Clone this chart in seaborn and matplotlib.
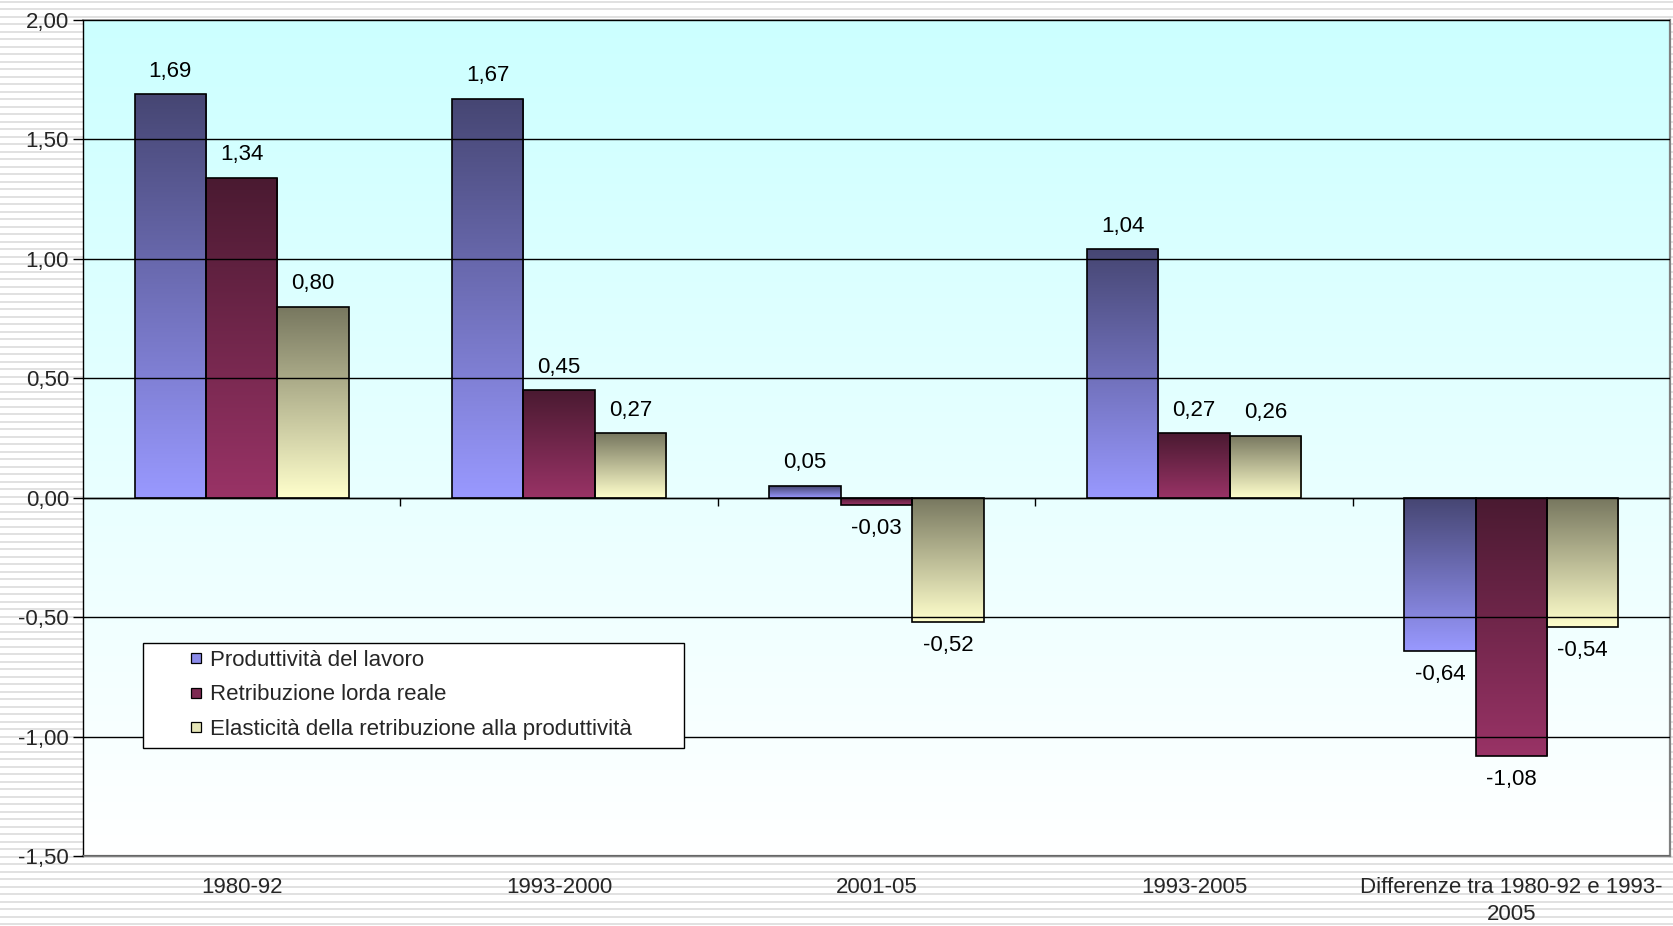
import numpy as np
import pandas as pd
import matplotlib
matplotlib.use("Agg")
import matplotlib.pyplot as plt
from matplotlib.colors import LinearSegmentedColormap, to_rgb
from matplotlib.lines import Line2D
from matplotlib.patches import Rectangle
from matplotlib.ticker import FuncFormatter, MultipleLocator
import seaborn as sns

# ---- data ----
categories = ["1980-92", "1993-2000", "2001-05", "1993-2005",
              "Differenze tra 1980-92 e 1993-\n2005"]
series_names = ["Produttività del lavoro",
                "Retribuzione lorda reale",
                "Elasticità della retribuzione alla produttività"]
produttivita = [1.69, 1.67, 0.05, 1.04, -0.64]
retribuzione = [1.34, 0.45, -0.03, 0.27, -1.08]
elasticita = [0.80, 0.27, -0.52, 0.26, -0.54]

# gradient end colours per series (top of bar -> bottom of bar)
grad_top = ["#464673", "#4a1a31", "#77775f"]
grad_bottom = ["#9999ff", "#993366", "#ffffcc"]
legend_swatch = ["#8b8bea", "#7d2a52", "#e6e6b8"]

df = pd.DataFrame({
    "categoria": np.repeat(categories, 3),
    "serie": series_names * len(categories),
    "valore": np.ravel(np.column_stack([produttivita, retribuzione, elasticita])),
})

sns.set_theme(style="white")
plt.rcParams["font.family"] = ["Liberation Sans", "DejaVu Sans"]
FS = 16

fig = plt.figure(figsize=(16.74, 9.26), dpi=100)
fig.patch.set_facecolor("white")

# striped slide background
bg = fig.add_axes([0, 0, 1, 1], zorder=-10)
bg.set_xlim(0, 1)
bg.set_ylim(0, 926)
for yy in np.arange(2.0, 926, 7.5):
    bg.axhline(yy, color="#e1e1e1", lw=1.4)
bg.axis("off")

ax = fig.add_axes([83 / 1674, 1 - 856 / 926, 1587 / 1674, 836 / 926])
ymin, ymax = -1.5, 2.0

sns.barplot(data=df, x="categoria", y="valore", hue="serie",
            order=categories, hue_order=series_names,
            width=0.675, ax=ax, legend=False, errorbar=None,
            edgecolor="black", linewidth=1.2, zorder=3)

ax.set_xlim(-0.5, len(categories) - 0.5)
ax.set_ylim(ymin, ymax)

# plot-area gradient: cyan at the top fading to white at the bottom
area_cmap = LinearSegmentedColormap.from_list("area", ["#ffffff", "#ccffff"])
ax.imshow(np.linspace(0, 1, 256).reshape(-1, 1), cmap=area_cmap, origin="lower",
          extent=(-0.5, len(categories) - 0.5, ymin, ymax), aspect="auto",
          zorder=0, interpolation="bilinear")

# bar gradients clipped to each bar
n_cat = len(categories)
for i, patch in enumerate(ax.patches):
    s = i // n_cat
    cmap = LinearSegmentedColormap.from_list(
        f"s{s}", [to_rgb(grad_top[s]), to_rgb(grad_bottom[s])])
    x0, y0 = patch.get_x(), patch.get_y()
    w, h = patch.get_width(), patch.get_height()
    lo, hi = min(y0, y0 + h), max(y0, y0 + h)
    img = ax.imshow(np.linspace(0, 1, 256).reshape(-1, 1), cmap=cmap,
                    origin="upper", extent=(x0, x0 + w, lo, hi),
                    aspect="auto", zorder=2.5, interpolation="bilinear")
    img.set_clip_path(patch)
    patch.set_facecolor("none")

# value labels
values = [produttivita, retribuzione, elasticita]
for i, patch in enumerate(ax.patches):
    s, c = divmod(i, n_cat)
    v = values[s][c]
    xc = patch.get_x() + patch.get_width() / 2
    off = 16.5 if v >= 0 else -17
    ax.annotate(f"{v:.2f}".replace(".", ","), (xc, v), xytext=(0, off),
                textcoords="offset points", ha="center", va="center",
                fontsize=FS, color="black", zorder=6)

# restore the image-adjusted limits
ax.set_xlim(-0.5, len(categories) - 0.5)
ax.set_ylim(ymin, ymax)

# axes styling
ax.yaxis.set_major_locator(MultipleLocator(0.5))
ax.yaxis.set_major_formatter(FuncFormatter(lambda v, p: f"{v:.2f}".replace(".", ",")))
ax.grid(axis="y", color="black", lw=1.0, zorder=1)
ax.grid(axis="x", visible=False)
ax.set_axisbelow(False)
for gl in ax.get_ygridlines():
    gl.set_zorder(1)
ax.tick_params(axis="y", which="major", direction="out", length=7, width=1,
               color="black", pad=3, labelsize=FS, left=True)
ax.tick_params(axis="x", length=0, pad=15, labelsize=FS)
ax.set_xlabel("")
ax.set_ylabel("")
for lbl in ax.get_xticklabels():
    lbl.set_linespacing(1.4)

ax.spines["left"].set_color("black")
ax.spines["left"].set_linewidth(1.0)
for side in ("right", "bottom", "top"):
    ax.spines[side].set_color("#808080")
    ax.spines[side].set_linewidth(1.6)
ax.spines["top"].set_linewidth(1.2)

# category axis drawn through zero, with ticks between the groups
zero_frac = (0 - ymin) / (ymax - ymin)
sec = ax.secondary_xaxis(zero_frac)
sec.set_xticks(np.arange(0.5, n_cat - 0.5, 1.0))
sec.tick_params(axis="x", direction="out", length=6, width=1, color="black",
                labelbottom=False, labelsize=0)
sec.spines["bottom"].set_color("black")
sec.spines["bottom"].set_linewidth(1.0)

# legend with its own box
ax.add_patch(Rectangle((60 / 1587, (856 - 748) / 836), 541 / 1587, 105 / 836,
                       transform=ax.transAxes, facecolor="white",
                       edgecolor="black", lw=1.0, zorder=7))
handles = [Line2D([], [], marker="s", linestyle="none", markersize=6.5,
                  markerfacecolor=legend_swatch[k], markeredgecolor="black",
                  markeredgewidth=0.9) for k in range(3)]
leg = ax.legend(handles, series_names, loc="upper left",
                bbox_to_anchor=((188 - 83) / 1587, (856 - 650) / 836),
                frameon=False, fontsize=FS, handlelength=0.7,
                handletextpad=0.3, labelspacing=0.6, borderpad=0,
                borderaxespad=0)
leg.set_zorder(8)

fig.savefig("out.png", dpi=100)
